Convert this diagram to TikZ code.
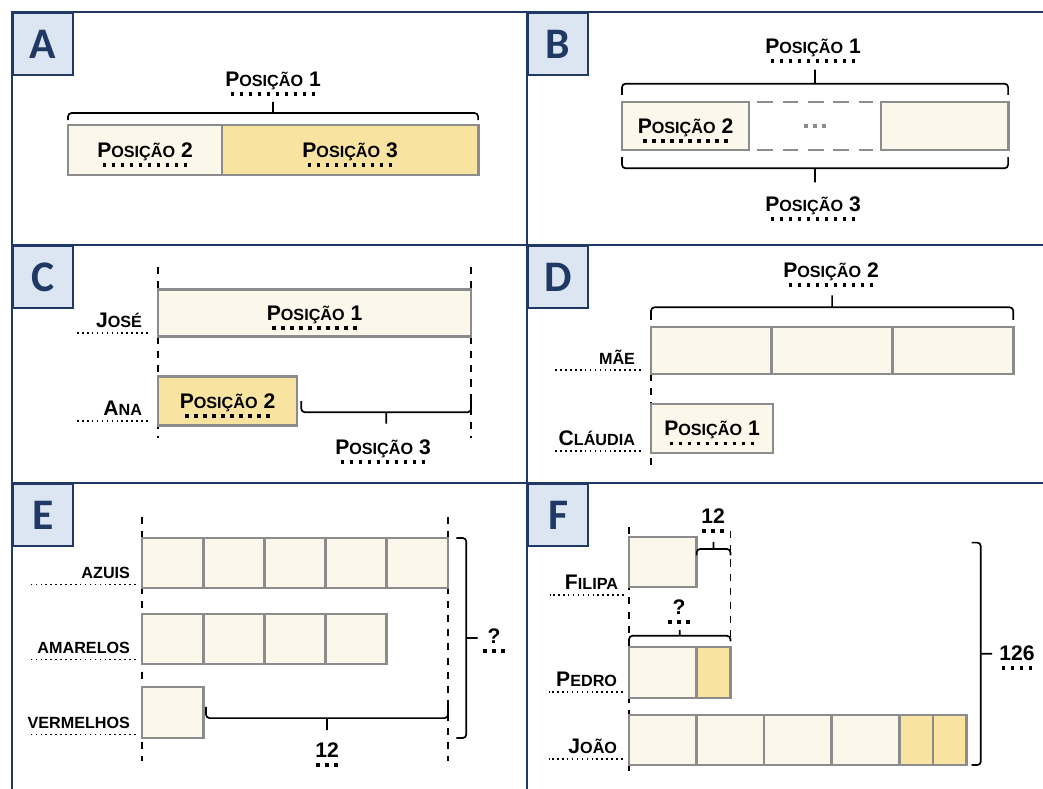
\documentclass[tikz,border=0pt]{standalone}
\usepackage{fontspec}
\setmainfont{Liberation Sans}
\newfontfamily\tagfont{Carlito}
\usetikzlibrary{calc,backgrounds}
\definecolor{navy}{HTML}{1F3864}
\definecolor{tagblue}{HTML}{DCE6F2}
\definecolor{cream}{HTML}{FBF7EA}
\definecolor{gold}{HTML}{F8E3A0}
\definecolor{barline}{HTML}{8C8C8C}
\newcommand\capsm[2]{#1{\fontsize{11.5}{11.5}\selectfont #2}}
\newcommand\blankline[2]{\draw[blank] ([xshift=-#2,yshift=-5.5pt]#1.south) -- ([xshift=#2,yshift=-5.5pt]#1.south);}
\newcommand\leadline[2]{\draw[lead] ([xshift=4pt,yshift=-4pt]#1.south east) -- ++(-#2,0);}

\begin{document}
\begin{tikzpicture}[x=0.025cm,y=-0.025cm,
  frame/.style={draw=navy,line width=1.6pt},
  tag/.style={draw=navy,line width=1.6pt,fill=tagblue,text=navy,anchor=north west,inner sep=0pt,minimum width=1.5cm,minimum height=1.55cm,font=\tagfont\fontsize{31}{31}\selectfont\bfseries},
  cell/.style={draw=barline,line width=2pt,fill=cream,anchor=west,inner sep=0pt,outer sep=0pt,minimum height=1.25cm},
  hicell/.style={cell,fill=gold},
  word/.style={inner sep=0pt,outer sep=0pt,text depth=0pt,font=\fontsize{15}{15}\selectfont\bfseries},
  person/.style={word,anchor=east},
  blank/.style={line width=2.6pt,dash pattern=on 2.6pt off 3.8pt},
  lead/.style={line width=1.1pt,dash pattern=on 1.1pt off 2.4pt},
  guide/.style={line width=1pt,dash pattern=on 5pt off 5pt},
  gapline/.style={draw=barline,line width=2pt,dash pattern=on 11pt off 7pt},
  gapdots/.style={draw=barline,line width=3pt,dash pattern=on 3pt off 3.5pt},
  curly/.style 2 args={line width=1.2pt,rounded corners=2.5pt,
    to path={-- ++#1 -- ($(\tikztotarget)+#1$) -- (\tikztotarget) ($(\tikztostart)!.5!(\tikztotarget)+#1$) -- ++#2}}]
  \useasboundingbox (0,0) rectangle (1043,788);
  \clip (0,0) rectangle (1043,788);

  % panels
  \draw[frame] (12,800) -- (12,12) -- (1060,12);
  \draw[frame] (527,12) -- (527,800);
  \draw[frame] (12,245) -- (1060,245);
  \draw[frame] (12,483) -- (1060,483);
  \node[tag] (tagA) at (12,12) {A};
  \node[tag] (tagB) at (527,12) {B};
  \node[tag] (tagC) at (12,245) {C};
  \node[tag] (tagD) at (527,245) {D};
  \node[tag] (tagE) at (12,483) {E};
  \node[tag] (tagF) at (527,483) {F};

  % A
  \node[cell,minimum width=3.85cm] (a2) at (68,150) {};
  \node[hicell,minimum width=6.4cm] (a3) at (a2.east) {};
  \node[word] (a2t) at (a2) {\capsm{P}{OSIÇÃO} 2}; \blankline{a2t}{30.1pt}
  \node[word] (a3t) at (a3) {\capsm{P}{OSIÇÃO} 3}; \blankline{a3t}{30.1pt}
  \draw[curly={(0pt,5pt)}{(0pt,8pt)}] ([yshift=3.5pt]a2.north west) to ([yshift=3.5pt]a3.north east);
  \node[word] (a1t) at (273,79) {\capsm{P}{OSIÇÃO} 1}; \blankline{a1t}{30.1pt}

  % B
  \node[cell,minimum width=3.175cm,minimum height=1.2cm] (b2) at (622,126) {};
  \node[inner sep=0pt,outer sep=0pt,minimum width=3.3cm,minimum height=1.2cm,anchor=west] (bgap) at (b2.east) {};
  \node[cell,minimum width=3.175cm,minimum height=1.2cm] (b3) at (bgap.east) {};
  \draw[gapline] ([xshift=6pt]bgap.north west) -- ([xshift=-6pt]bgap.north east);
  \draw[gapline] ([xshift=6pt]bgap.south west) -- ([xshift=-6pt]bgap.south east);
  \draw[gapdots] ([xshift=-8pt]bgap.center) -- ([xshift=8pt]bgap.center);
  \node[word] (b2t) at (b2) {\capsm{P}{OSIÇÃO} 2}; \blankline{b2t}{30.1pt}
  \draw[curly={(0pt,8pt)}{(0pt,10pt)}] ([yshift=5pt]b2.north west) to ([yshift=5pt]b3.north east);
  \draw[curly={(0pt,-8pt)}{(0pt,-10pt)}] ([yshift=-5pt]b2.south west) to ([yshift=-5pt]b3.south east);
  \node[word] (b1t) at (813,46) {\capsm{P}{OSIÇÃO} 1}; \blankline{b1t}{30.1pt}
  \node[word] (b3t) at (813,204) {\capsm{P}{OSIÇÃO} 3}; \blankline{b3t}{30.1pt}

  % C
  \node[cell,minimum width=7.825cm,minimum height=1.175cm] (jose) at (158,313) {};
  \node[hicell,minimum width=3.475cm,minimum height=1.225cm] (ana) at (158,401) {};
  \begin{scope}[on background layer]
    \draw[guide] ([yshift=16pt]jose.north west) -- ($(ana.south west)+(0pt,-9pt)$);
    \draw[guide] ([yshift=16pt]jose.north east) -- ($(jose.north east |- ana.south)+(0pt,-9pt)$);
  \end{scope}
  \node[word] (joset) at (jose) {\capsm{P}{OSIÇÃO} 1}; \blankline{joset}{30.1pt}
  \node[word] (anat) at (ana) {\capsm{P}{OSIÇÃO} 2}; \blankline{anat}{30.1pt}
  \draw[curly={(0pt,-8pt)}{(0pt,-8pt)}] ([xshift=3pt]ana.east) to (ana.east -| jose.east);
  \node[word] (c3t) at (383,447) {\capsm{P}{OSIÇÃO} 3}; \blankline{c3t}{30.1pt}
  \node[person] (josen) at (142,320) {\capsm{J}{OSÉ}}; \leadline{josen}{72}
  \node[person] (anan) at (142,408) {\capsm{A}{NA}}; \leadline{anan}{72}

  % D
  \foreach \i in {0,1,2}
    \node[cell,minimum width=3.02cm,minimum height=1.175cm] (mae\i) at (651+\i*120.7,350.5) {};
  \node[cell,minimum width=3.05cm,minimum height=1.225cm] (claudia) at (651,428.5) {};
  \begin{scope}[on background layer]
    \draw[guide] (mae0.south west) -- ([yshift=-11pt]claudia.south west);
  \end{scope}
  \draw[curly={(0pt,9pt)}{(0pt,8.5pt)}] ([yshift=5pt]mae0.north west) to ([yshift=5pt]mae2.north east);
  \node[word] (d2t) at (831,270) {\capsm{P}{OSIÇÃO} 2}; \blankline{d2t}{30.1pt}
  \node[word] (claudiat) at (claudia) {\capsm{P}{OSIÇÃO} 1}; \blankline{claudiat}{30.1pt}
  \node[person] (maen) at (635,357) {\capsm{}{MÃE}}; \leadline{maen}{88}
  \node[person] (claudian) at (635,438) {\capsm{C}{LÁUDIA}}; \leadline{claudian}{88}

  % E
  \foreach \i in {1,...,5}
    \node[cell,minimum width=1.53cm] (az\i) at (80.8+\i*61.2,563) {};
  \foreach \i in {1,...,4}
    \node[cell,minimum width=1.53cm] (am\i) at (80.8+\i*61.2,639) {};
  \node[cell,minimum width=1.53cm,minimum height=1.275cm] (ve1) at (142,712.5) {};
  \begin{scope}[on background layer]
    \draw[guide] ([yshift=15pt]az1.north west) -- ($(ve1.south west)+(0pt,-16pt)$);
    \draw[guide] ([yshift=15pt]az5.north east) -- ($(az5.north east |- ve1.south)+(0pt,-16pt)$);
  \end{scope}
  \draw[curly={(0pt,-8pt)}{(0pt,-8.5pt)}] ([xshift=2pt,yshift=4pt]ve1.east) to ($(az5.east |- ve1.east)+(0pt,4pt)$);
  \node[word] (e12) at (327,750) {12}; \blankline{e12}{7.7pt}
  \draw[curly={(7pt,0pt)}{(8pt,0pt)}] ([xshift=6pt]az5.north east) to ($(az5.north east |- ve1.south)+(6pt,0pt)$);
  \node[word] (eq) at (494,636) {?}; \blankline{eq}{7.7pt}
  \node[person] (azn) at (130,573) {\capsm{}{AZUIS}}; \leadline{azn}{108}
  \node[person] (amn) at (130,648) {\capsm{}{AMARELOS}}; \leadline{amn}{108}
  \node[person] (ven) at (130,723) {\capsm{}{VERMELHOS}}; \leadline{ven}{108}

  % F
  \node[cell,minimum width=1.69cm] (fil) at (629,562) {};
  \node[cell,minimum width=1.69cm,minimum height=1.275cm] (pe1) at (629,672.5) {};
  \node[hicell,minimum width=0.845cm,minimum height=1.275cm] (pe2) at (pe1.east) {};
  \foreach \i in {1,...,4}
    \node[cell,minimum width=1.69cm] (jo\i) at (561.5+\i*67.5,740) {};
  \node[hicell,minimum width=0.845cm] (jo5) at (jo4.east) {};
  \node[hicell,minimum width=0.845cm] (jo6) at (jo5.east) {};
  \begin{scope}[on background layer]
    \draw[guide] ([yshift=7pt]fil.north west) -- ([yshift=-4pt]jo1.south west);
    \draw[guide] ($(pe2.east |- fil.north)+(0pt,4pt)$) -- ([yshift=3pt]pe2.north east);
  \end{scope}
  \draw[curly={(0pt,4.5pt)}{(0pt,5pt)}] ([yshift=-13pt]fil.north east) to ($(pe2.east |- fil.north)+(0pt,-13pt)$);
  \node[word] (f12) at (713,516) {12}; \blankline{f12}{7.7pt}
  \draw[curly={(0pt,4pt)}{(0pt,4pt)}] ([yshift=4pt]pe1.north west) to ([yshift=4pt]pe2.north east);
  \node[word] (fq) at (679,607) {?}; \blankline{fq}{7.7pt}
  \draw[curly={(6.5pt,0pt)}{(8pt,0pt)}] ($(jo6.east |- fil.north)+(3.5pt,-4pt)$) to ($(jo6.south east)+(3.5pt,0pt)$);
  \node[word] (f126) at (1017,653) {126}; \blankline{f126}{10.9pt}
  \node[person] (filn) at (618,582) {\capsm{F}{ILIPA}}; \leadline{filn}{74}
  \node[person] (pen) at (617,679) {\capsm{P}{EDRO}}; \leadline{pen}{74}
  \node[person] (jon) at (617,746) {\capsm{J}{OÃO}}; \leadline{jon}{74}
\end{tikzpicture}
\end{document}
